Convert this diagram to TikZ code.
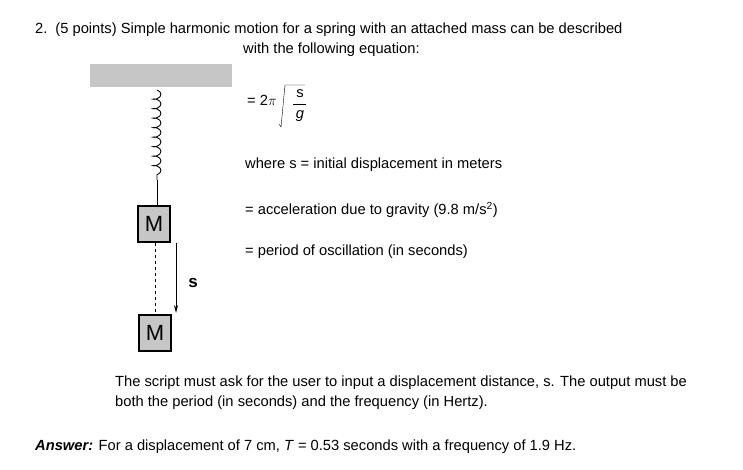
\documentclass[tikz,border=0pt]{standalone}
\usepackage{fontspec}
\setmainfont{Liberation Sans}
\usetikzlibrary{decorations.pathmorphing,arrows.meta}
\begin{document}
\begin{tikzpicture}[x=1pt,y=-1pt,
  txt/.style={anchor=west,inner sep=0pt,font=\fontsize{14.7}{17}\selectfont},
  mass/.style={draw,fill=gray!45,line width=1.2pt,minimum width=32pt,minimum height=36pt,inner sep=0pt,font=\fontsize{22}{22}\selectfont}]
\useasboundingbox (0,0) rectangle (743,470);
\fill[white] (0,0) rectangle (743,470);
\fill[gray!45] (90,64) rectangle (232,87);
\coordinate (top) at (157,90);
\coordinate (sb) at (157,180);
\node[mass] (m1) at (154,224) {M};
\node[mass] (m2) at (155,333) {M};
\draw[line width=0.9pt,decorate,decoration={coil,aspect=0.5,segment length=9.5pt,amplitude=4pt}] (top) -- (sb);
\draw[line width=0.9pt] (sb) -- (m1.north -| sb);
\draw[line width=1pt,dash pattern=on 3pt off 3pt] (m1.south -| 155,0) -- (m2.north -| 155,0);
\coordinate (a1) at (176,243);
\coordinate (a2) at (176,313);
\draw[line width=0.9pt,-{Stealth[length=8pt,width=4pt]}] (a1) -- (a2);
\node[font=\bfseries\fontsize{17}{17}\selectfont] (s) at (193,283) {s};
\node[txt] (l1) at (35,30) {2.\hspace{8pt}(5 points) Simple harmonic motion for a spring with an attached mass can be described};
\node[txt] (l2) at (243,50) {with the following equation:};
\node[txt] (eq) at (247,100) {= 2$\pi$};
\draw (279,124) -- (281,127) -- (285,85) -- (305,85);
\node[inner sep=0pt,font=\fontsize{14.7}{17}\selectfont] (sn) at (300,94) {s};
\node[inner sep=0pt,font=\fontsize{14.7}{17}\selectfont\itshape] (gn) at (300,116) {g};
\draw (293,104) -- (306,104);
\node[txt] (w) at (245,165) {where s = initial displacement in meters};
\node[txt] (acc) at (245,210) {= acceleration due to gravity (9.8 m/s\textsuperscript{2})};
\node[txt] (per) at (245,252) {= period of oscillation (in seconds)};
\node[txt] (sc1) at (115,383) {The script must ask for the user to input a displacement distance, s. The output must be};
\node[txt] (sc2) at (115,403) {both the period (in seconds) and the frequency (in Hertz).};
\node[txt] (ans) at (35,447) {\textbf{\textit{Answer:}} For a displacement of 7 cm, \textit{T} = 0.53 seconds with a frequency of 1.9 Hz.};
\end{tikzpicture}
\end{document}
